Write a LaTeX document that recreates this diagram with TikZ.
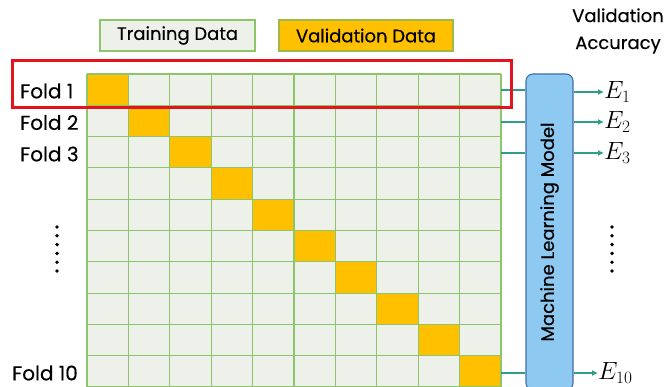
\documentclass[tikz,border=0pt]{standalone}
\usepackage{fontspec}
\setmainfont{Poppins}[FakeBold=0.4]
\usetikzlibrary{arrows.meta}
\definecolor{cellfill}{HTML}{EEF1EA}
\definecolor{cellline}{HTML}{8DC56A}
\definecolor{valfill}{HTML}{FFC000}
\definecolor{mlfill}{HTML}{8EC9F2}
\definecolor{mlline}{HTML}{3F6FA6}
\definecolor{foldred}{HTML}{E3141E}
\definecolor{teal}{HTML}{2E9E88}
\tikzset{
  cellbox/.style={draw=cellline, line width=1.1pt},
  lbl/.style={font=\fontsize{20}{22}\selectfont, inner sep=0pt},
  legendbox/.style={draw=cellline, line width=1.1pt, minimum width=155pt, minimum height=31pt, font=\fontsize{18}{20}\selectfont},
  conn/.style={draw=teal, line width=1.5pt},
  arr/.style={conn, -{Latex[length=6pt,width=6pt]}},
  elbl/.style={font=\fontsize{23}{24}\selectfont, inner sep=0pt, anchor=west},
  dotmark/.style={fill=black, circle, inner sep=0pt, minimum size=3.8pt},
}
\begin{document}
\begin{tikzpicture}[x=1pt,y=-1pt]
\useasboundingbox (0,0) rectangle (668,387);
% grid
\foreach \r in {0,...,9}{
  \foreach \c in {0,...,9}{
    \ifnum\r=\c
      \fill[valfill] (87+41.4*\c,74+31.3*\r) rectangle ++(41.4,31.3);
    \else
      \fill[cellfill] (87+41.4*\c,74+31.3*\r) rectangle ++(41.4,31.3);
    \fi
  }
}
\foreach \c in {0,...,10} \draw[cellbox] (87+41.4*\c,74) -- (87+41.4*\c,387);
\foreach \r in {0,...,10} \draw[cellbox] (87,74+31.3*\r) -- (501,74+31.3*\r);
% row end coordinates
\coordinate (r1) at (501,90);
\coordinate (r2) at (501,122);
\coordinate (r3) at (501,153);
\coordinate (r10) at (501,373);
% legend
\node[legendbox, fill=cellfill] (train) at (177.5,35.5) {Training Data};
\node[legendbox, fill=valfill, draw=valfill!80!black!30!cellline, minimum width=174pt] (valid) at (366,35.5) {Validation Data};
% fold labels
\node[lbl, anchor=west] (f1) at (20,91) {Fold 1};
\node[lbl, anchor=west] (f2) at (20,122.5) {Fold 2};
\node[lbl, anchor=west] (f3) at (20,154) {Fold 3};
\node[lbl, anchor=west] (f10) at (12,373) {Fold 10};
% ML box
\node[draw=mlline, fill=mlfill, line width=1.1pt, rounded corners=7pt, minimum width=47pt, minimum height=316pt, inner sep=0pt] (ml) at (549.5,232) {};
\node[rotate=90, font=\fontsize{18}{20}\selectfont, inner sep=0pt] (mltext) at (ml.center) {Machine Learning Model};
% accuracy header
\node[lbl, align=center, font=\fontsize{18}{27}\selectfont] (acc) at (618,31) {Validation\\Accuracy};
% E labels
\node[elbl] (e1) at (604,92) {$E_1$};
\node[elbl] (e2) at (604,122) {$E_2$};
\node[elbl] (e3) at (604,153) {$E_3$};
\node[elbl] (e10) at (598,373) {$E_{10}$};
% connectors
\foreach \i in {1,2,3,10}{
  \draw[conn] (r\i) -- (ml.west |- r\i);
}
\draw[arr] (ml.east |- e1) -- (e1.west);
\draw[arr] (ml.east |- e2) -- (e2.west);
\draw[arr] (ml.east |- e3) -- (e3.west);
\draw[arr] (ml.east |- e10) -- (e10.west);
% dots
\foreach \k in {0,...,5}{
  \node[dotmark] (dl\k) at (57,227+8.8*\k) {};
  \node[dotmark] (dr\k) at (612,227+8.8*\k) {};
}
% red box
\node[draw=foldred, line width=3pt, minimum width=499pt, minimum height=47pt, inner sep=0pt] (redbox) at (261.5,84) {};
\end{tikzpicture}
\end{document}
